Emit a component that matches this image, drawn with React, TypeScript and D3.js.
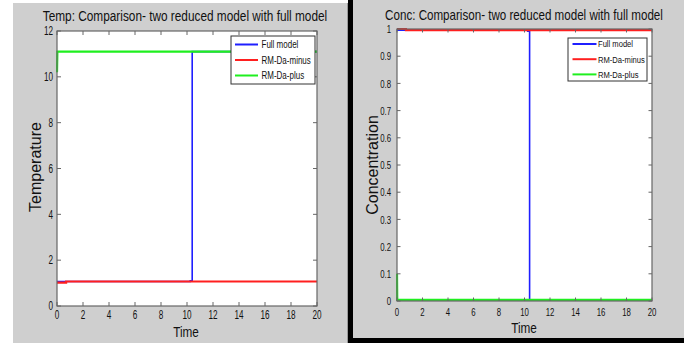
import React, { useEffect, useRef } from "react";
import * as d3 from "d3";

const width = 689;
const height = 343;

const timeTicks = [0, 2, 4, 6, 8, 10, 12, 14, 16, 18, 20];
const tempTicks = [0, 2, 4, 6, 8, 10, 12];
const concTicks = [0, 0.1, 0.2, 0.3, 0.4, 0.5, 0.6, 0.7, 0.8, 0.9, 1];
const legendNames = ["Full model", "RM-Da-minus", "RM-Da-plus"];
const seriesColors = ["#1f1fff", "#ff1f1f", "#1fef1f"];

// [time, value] step points
const tempFull: [number, number][] = [[0, 1.07], [10.25, 1.07], [10.25, 1.1], [10.4, 1.1], [10.4, 11.1], [20, 11.1]];
const tempMinus: [number, number][] = [[0, 1.02], [0.7, 1.02], [0.7, 1.07], [20, 1.07]];
const tempPlus: [number, number][] = [[0, 10.2], [0.03, 11.1], [20, 11.1]];

const concFull: [number, number][] = [[0, 0.996], [10.25, 0.996], [10.25, 0.992], [10.4, 0.992], [10.4, 0.004], [20, 0.004]];
const concMinus: [number, number][] = [[0, 1.0], [0.7, 1.0], [0.7, 0.996], [20, 0.996]];
const concPlus: [number, number][] = [[0, 0.1], [0.02, 0.004], [20, 0.004]];

const font = "Liberation Sans, Arial, sans-serif";

function label(g: any, x: number, y: number, s: string, size: number, sx: number, anchor = "middle") {
    return g.append("text")
        .attr("transform", `translate(${x},${y}) scale(${sx},1)`)
        .attr("text-anchor", anchor)
        .attr("font-size", size)
        .attr("fill", "#111")
        .text(s);
}

function drawPanel(svg: any, p: any) {
    const x = d3.scaleLinear().domain([0, 20]).range([p.left, p.right]);
    const y = d3.scaleLinear().domain(p.yDomain).range([p.bottom, p.top]);
    const fmt = d3.format("~g");

    const g = svg.append("g").attr("font-family", font);

    g.append("rect")
        .attr("x", p.left).attr("y", p.top)
        .attr("width", p.right - p.left).attr("height", p.bottom - p.top)
        .attr("fill", "#fff");

    const clipId = `clip-${p.id}`;
    svg.append("clipPath").attr("id", clipId)
        .append("rect")
        .attr("x", p.left - 1).attr("y", p.top - 1.5)
        .attr("width", p.right - p.left + 2).attr("height", p.bottom - p.top + 3);

    const line = d3.line<[number, number]>().x(d => x(d[0])).y(d => y(d[1]));

    g.append("g")
        .attr("clip-path", `url(#${clipId})`)
        .attr("fill", "none")
        .selectAll("path")
        .data(p.series)
        .join("path")
        .attr("stroke", (d: any, i: number) => seriesColors[i])
        .attr("stroke-width", (d: any, i: number) => i === 0 ? 1.6 : 2.2)
        .attr("d", (d: any) => line(d));

    // inward ticks on all four sides
    const tl = p.tick;
    const tg = g.append("g").attr("stroke", "#666").attr("stroke-width", 1);
    timeTicks.forEach(t => {
        tg.append("line").attr("x1", x(t)).attr("x2", x(t)).attr("y1", p.bottom).attr("y2", p.bottom - tl);
        tg.append("line").attr("x1", x(t)).attr("x2", x(t)).attr("y1", p.top).attr("y2", p.top + tl);
        label(g, x(t), p.bottom + p.xLabelDy, String(t), p.tickSize, 0.68);
    });
    p.yTicks.forEach((v: number) => {
        tg.append("line").attr("x1", p.left).attr("x2", p.left + tl).attr("y1", y(v)).attr("y2", y(v));
        tg.append("line").attr("x1", p.right).attr("x2", p.right - tl).attr("y1", y(v)).attr("y2", y(v));
        label(g, p.left - p.yLabelDx, y(v), fmt(v), p.tickSize, 0.68, "end").attr("dy", "0.36em");
    });

    g.append("rect")
        .attr("x", p.left).attr("y", p.top)
        .attr("width", p.right - p.left).attr("height", p.bottom - p.top)
        .attr("fill", "none").attr("stroke", "#666").attr("stroke-width", 1.2);

    // titles
    label(g, p.titleX, p.titleY, p.title, 14.5, p.titleSx);
    label(g, p.timeX, p.timeY, "Time", 15.5, 0.76);

    g.append("text")
        .attr("transform", `translate(${p.yTitleX},${p.yTitleY}) rotate(-90)`)
        .attr("text-anchor", "middle")
        .attr("font-size", 16)
        .attr("fill", "#111")
        .text(p.yTitle);

    // legend
    const lg = g.append("g").attr("transform", `translate(${p.legend.x},${p.legend.y})`);
    lg.append("rect")
        .attr("width", p.legend.w).attr("height", p.legend.h)
        .attr("fill", "#fff").attr("stroke", "#333").attr("stroke-width", 1);
    legendNames.forEach((name, i) => {
        const ry = p.legend.row0 + i * p.legend.step;
        lg.append("line")
            .attr("x1", p.legend.l0).attr("x2", p.legend.l1)
            .attr("y1", ry).attr("y2", ry)
            .attr("stroke", seriesColors[i]).attr("stroke-width", 2);
        label(lg, p.legend.tx, ry, name, p.legend.size, 0.8, "start").attr("dy", "0.35em");
    });
}

export default function App() {
    const ref = useRef<SVGSVGElement>(null);

    useEffect(() => {
        document.body.style.margin = "0";
        const svg = d3.select(ref.current);
        svg.selectAll("*").remove();

        // figure windows
        svg.append("rect").attr("x", 13).attr("y", 3).attr("width", 335).attr("height", height - 3).attr("fill", "#cfcfcf");
        svg.append("line").attr("x1", 347.5).attr("x2", 347.5).attr("y1", 3).attr("y2", height).attr("stroke", "#9a9a9a");
        svg.append("rect").attr("x", 348).attr("y", 0).attr("width", 5).attr("height", height).attr("fill", "#000");
        svg.append("rect").attr("x", 353).attr("y", 0).attr("width", 331).attr("height", 338).attr("fill", "#cfcfcf");
        svg.append("rect").attr("x", 348).attr("y", 338).attr("width", 336).attr("height", 5).attr("fill", "#000");

        drawPanel(svg, {
            id: "temp", left: 57, right: 317, top: 31, bottom: 306,
            yDomain: [0, 12], yTicks: tempTicks, tick: 4, tickSize: 12,
            xLabelDy: 13, yLabelDx: 4,
            series: [tempFull, tempMinus, tempPlus],
            title: "Temp: Comparison- two reduced model with full model",
            titleX: 185, titleY: 21, titleSx: 0.816,
            timeX: 186, timeY: 337,
            yTitle: "Temperature", yTitleX: 41, yTitleY: 167,
            legend: { x: 231, y: 36, w: 84, h: 48, row0: 8.5, step: 15.5, l0: 4, l1: 27, tx: 30.5, size: 10 },
        });

        drawPanel(svg, {
            id: "conc", left: 397, right: 652, top: 29, bottom: 301,
            yDomain: [0, 1], yTicks: concTicks, tick: 3.5, tickSize: 11.5,
            xLabelDy: 14.5, yLabelDx: 6,
            series: [concFull, concMinus, concPlus],
            title: "Conc: Comparison- two reduced model with full model",
            titleX: 524, titleY: 20, titleSx: 0.80,
            timeX: 524, timeY: 333,
            yTitle: "Concentration", yTitleX: 378, yTitleY: 165,
            legend: { x: 568, y: 38, w: 79, h: 43, row0: 6, step: 15.2, l0: 4.5, l1: 28.5, tx: 30, size: 9.5 },
        });
    }, []);

    return <svg ref={ref} width={width} height={height} style={{ display: "block" }} />;
}
